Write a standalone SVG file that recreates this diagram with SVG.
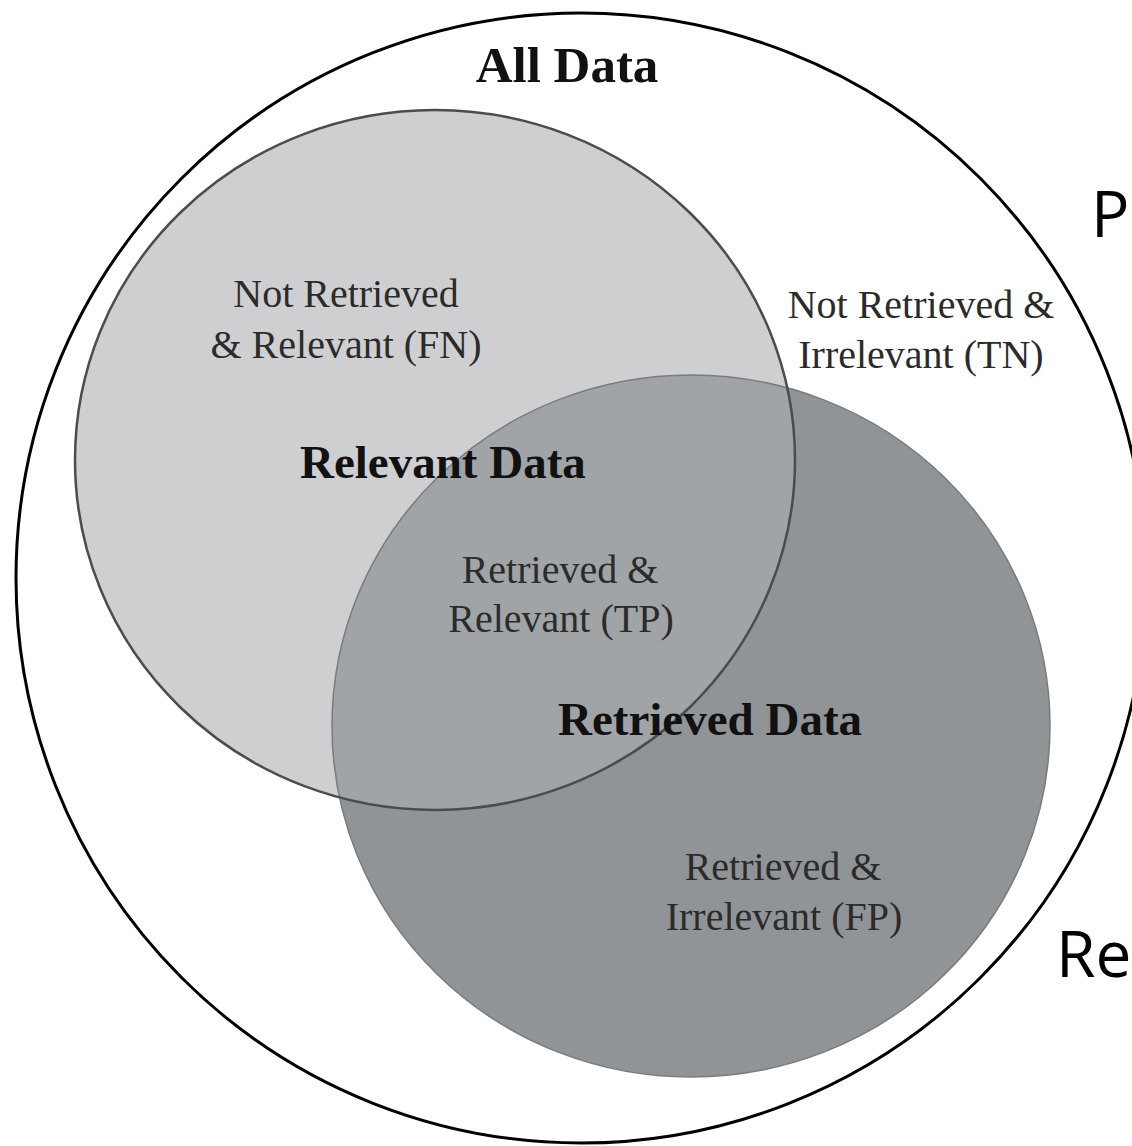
<svg xmlns="http://www.w3.org/2000/svg" width="1132" height="1146" viewBox="0 0 1132 1146">
  <style>
    .lbl { font-family: "Liberation Serif", "Times New Roman", serif; font-size: 40px; fill: #2b2b2b; text-anchor: middle; }
    .ttl { font-family: "Liberation Serif", "Times New Roman", serif; font-size: 47px; font-weight: bold; fill: #111; }
    .side { font-family: "Open Sans", "Liberation Sans", sans-serif; font-size: 64px; fill: #000; }
  </style>
  <defs>
    <clipPath id="clipRel">
      <ellipse cx="435" cy="460" rx="360" ry="350"/>
    </clipPath>
  </defs>
  <rect x="0" y="0" width="1132" height="1146" fill="#ffffff"/>

  <g id="all-data">
    <circle cx="581" cy="578" r="565" fill="#ffffff" stroke="#000" stroke-width="3"/>
    <text x="567" y="82" class="ttl" style="font-size:51px" text-anchor="middle">All Data</text>
  </g>

  <g id="relevant-data">
    <ellipse cx="435" cy="460" rx="360" ry="350" fill="#cfcfd2"/>
  </g>

  <g id="retrieved-data">
    <ellipse cx="691" cy="726" rx="359" ry="351" fill="#909497"/>
    <ellipse cx="691" cy="726" rx="359" ry="351" fill="#a0a4a7" clip-path="url(#clipRel)"/>
    <ellipse cx="691" cy="726" rx="359" ry="351" fill="none" stroke="#787c7f" stroke-width="1.5"/>
  </g>

  <g id="relevant-outline">
    <ellipse cx="435" cy="460" rx="360" ry="350" fill="none" stroke="#4a4c4e" stroke-width="2.5"/>
  </g>

  <g id="connectors"></g>

  <g id="fn">
    <text x="346" y="307" class="lbl">Not Retrieved</text>
    <text x="346" y="358" class="lbl">&amp; Relevant (FN)</text>
  </g>
  <g id="tn">
    <text x="921" y="318" class="lbl">Not Retrieved &amp;</text>
    <text x="921" y="368" class="lbl">Irrelevant (TN)</text>
  </g>
  <g id="relevant-label">
    <text x="300" y="478" class="ttl">Relevant Data</text>
  </g>
  <g id="tp">
    <text x="560" y="583" class="lbl">Retrieved &amp;</text>
    <text x="561" y="632" class="lbl">Relevant (TP)</text>
  </g>
  <g id="retrieved-label">
    <text x="558" y="735" class="ttl">Retrieved Data</text>
  </g>
  <g id="fp">
    <text x="783" y="880" class="lbl">Retrieved &amp;</text>
    <text x="784" y="930" class="lbl">Irrelevant (FP)</text>
  </g>

  <g id="side-labels">
    <text x="1091" y="237" class="side">P</text>
    <text x="1056" y="977" class="side">Re</text>
  </g>
</svg>
